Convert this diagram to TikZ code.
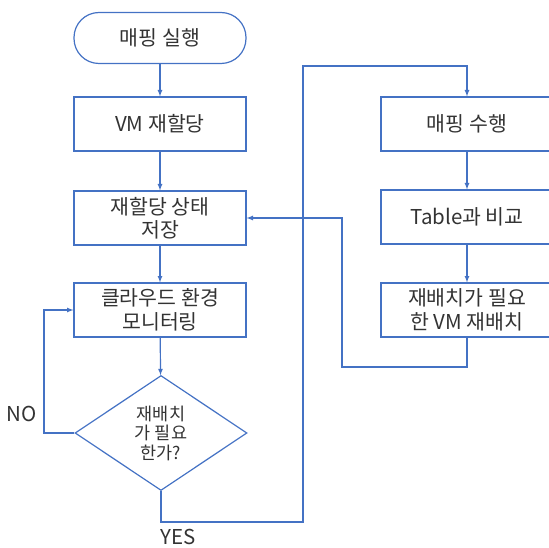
\documentclass[tikz,border=0pt]{standalone}
\usepackage{fontspec}
\setmainfont{Noto Sans CJK KR}
\usepackage{xcolor}
\usepackage{tikz}
\usetikzlibrary{arrows}
\usetikzlibrary{shapes.geometric}
\definecolor{flowblue}{HTML}{4472C4}

\begin{document}
\begin{tikzpicture}[->,>=latex,x=1pt,y=-1pt,
                    color=flowblue,line width=1.2pt,
                    every node/.style={text=black!80,font=\fontsize{20.5}{23.5}\selectfont}]

    \useasboundingbox (0,0) rectangle (549,548);
    \clip (0,0) rectangle (549,548);

    \node[rectangle,
          draw,
          rounded corners = 25pt,
          minimum width = 172pt,
          minimum height = 51pt
          ] (start) at (160,38) {};
    \node[] (starttxt) at (start.center) {매핑 실행};

    \node[rectangle,
          draw,
          minimum width = 172pt,
          minimum height = 54pt
          ] (realloc) at (160,124) {};
    \node[] (realloctxt) at (realloc.center) {VM 재할당};

    \node[rectangle,
          draw,
          minimum width = 172pt,
          minimum height = 54pt
          ] (save) at (160,218) {};
    \node[align=center] (savetxt) at (save.center) {재할당 상태\\저장};

    \node[rectangle,
          draw,
          minimum width = 172pt,
          minimum height = 54pt
          ] (monitor) at (160,310) {};
    \node[align=center] (monitortxt) at (monitor.center) {클라우드 환경\\모니터링};

    \node[diamond,
          draw,
          inner sep = 0pt,
          minimum width = 172pt,
          minimum height = 115pt
          ] (check) at (161,433) {};
    \node[align=center,font=\fontsize{17.5}{19.5}\selectfont] (checktxt) at (check.center) {재배치\\가 필요\\한가?};

    \node[rectangle,
          draw,
          minimum width = 172pt,
          minimum height = 54pt
          ] (mapping) at (467,124) {};
    \node[] (mappingtxt) at (mapping.center) {매핑 수행};

    \node[rectangle,
          draw,
          minimum width = 172pt,
          minimum height = 54pt
          ] (compare) at (467,217) {};
    \node[] (comparetxt) at (compare.center) {Table과 비교};

    \node[rectangle,
          draw,
          minimum width = 172pt,
          minimum height = 54pt
          ] (relocate) at (467,310) {};
    \node[align=center] (relocatetxt) at (relocate.center) {재배치가 필요\\한 VM 재배치};

    \coordinate (nocorner) at (44,433);
    \coordinate (yescorner) at (303,522);
    \coordinate (topcorner) at (303,66);
    \coordinate (backcorner) at (342,367);

    \node[] (nolabel) at (22,414) {NO};
    \node[] (yeslabel) at (178,537) {YES};

    \path
    %left column
    (start) edge [] (realloc)
    (realloc) edge [] (save)
    (save) edge [] (monitor)
    (monitor) edge [] (check)
    %right column
    (mapping) edge [] (compare)
    (compare) edge [] (relocate) ;

    %loops
    \draw (check.west) -- (nocorner) |- (monitor.west);
    \draw (check.south) |- (yescorner) -- (topcorner) -| (mapping.north);
    \draw (relocate.south) |- (backcorner) |- (save.east);

\end{tikzpicture}
\end{document}
